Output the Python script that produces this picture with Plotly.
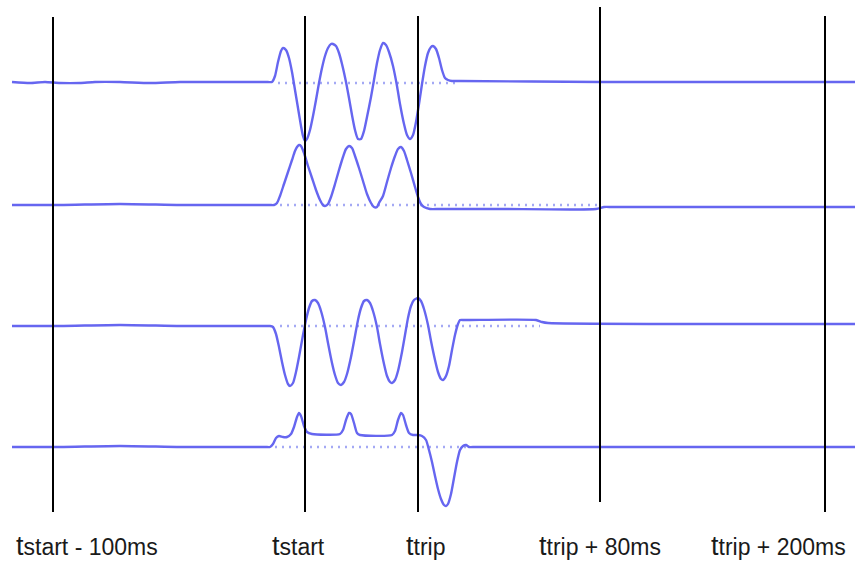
import plotly.graph_objects as go

# ---- data (schematic waveform samples) ----
# x = position along the time axis, y = signal level (screen units, larger = lower)
w1_x = [12, 30, 45, 60, 80, 95, 120, 150, 180, 230, 262, 268, 272, 275, 278, 281, 283, 286, 289, 292, 295, 298, 301, 303, 305, 307, 310, 313, 316, 319, 322, 325, 328, 331, 333, 336, 339, 342, 346, 349, 352, 355, 358, 361, 364, 367, 371, 374, 377, 380, 383, 386, 389, 393, 397, 400, 404, 407, 410, 413, 416, 419, 422, 425, 428, 431, 433, 436, 439, 442, 445, 448, 452, 460, 600, 700, 855]
w1_y = [82, 83, 82, 83, 83, 82, 82, 83, 82, 82, 82, 82, 82, 76, 62, 51, 48, 50, 58, 72, 90, 108, 126, 136, 141, 139, 130, 116, 100, 83, 68, 56, 48, 44, 44, 46, 53, 64, 82, 98, 115, 130, 139, 139, 131, 117, 97, 80, 63, 50, 43, 45, 52, 66, 86, 104, 124, 135, 139, 135, 122, 104, 84, 66, 53, 47, 46, 49, 58, 70, 78, 80, 81, 81, 82, 82, 82]

w2_x = [12, 60, 120, 180, 230, 262, 270, 274, 277, 280, 284, 288, 292, 295, 297, 299, 301, 304, 308, 312, 316, 320, 323, 325, 328, 331, 335, 339, 343, 346, 349, 352, 355, 359, 363, 367, 371, 374, 377, 379, 383, 387, 391, 395, 398, 401, 404, 407, 411, 415, 418, 421, 424, 430, 440, 500, 596, 604, 612, 700, 855]
w2_y = [205, 205, 204, 205, 205, 205, 205, 205, 203, 196, 184, 172, 160, 151, 147, 145, 146, 153, 166, 178, 190, 200, 205, 206, 204, 197, 184, 170, 157, 149, 146, 148, 156, 168, 181, 194, 203, 207, 207, 203, 196, 182, 168, 156, 149, 147, 151, 160, 173, 187, 197, 204, 207, 209, 209, 209, 209, 207, 207, 207, 207]

w3_x = [12, 60, 120, 180, 230, 262, 266, 270, 273, 276, 279, 282, 285, 288, 290, 293, 296, 299, 303, 306, 309, 312, 315, 318, 321, 325, 328, 332, 335, 338, 341, 344, 347, 351, 355, 358, 361, 364, 367, 370, 373, 377, 380, 384, 387, 390, 392, 395, 398, 402, 405, 408, 411, 414, 418, 421, 424, 428, 431, 435, 438, 441, 443, 446, 449, 452, 455, 458, 460, 464, 470, 536, 542, 548, 700, 855]
w3_y = [326, 326, 325, 326, 326, 326, 326, 326, 327, 334, 347, 362, 375, 384, 386, 383, 372, 357, 335, 320, 308, 301, 300, 303, 311, 327, 343, 363, 375, 383, 385, 382, 374, 357, 336, 320, 308, 301, 300, 303, 311, 327, 344, 364, 376, 382, 383, 380, 371, 352, 335, 318, 306, 300, 298, 301, 309, 325, 341, 360, 372, 379, 380, 376, 366, 350, 335, 324, 320, 320, 320, 320, 322, 323, 324, 324]

w4_x = [12, 60, 120, 180, 230, 262, 266, 270, 273, 276, 279, 283, 287, 291, 294, 297, 299, 301, 304, 307, 312, 340, 343, 346, 349, 351, 354, 357, 360, 392, 395, 398, 401, 403, 406, 409, 413, 418, 422, 426, 429, 432, 435, 438, 441, 444, 446, 448, 451, 454, 457, 460, 463, 466, 469, 475, 600, 855]
w4_y = [447, 447, 446, 447, 447, 447, 447, 447, 444, 438, 436, 437, 437, 434, 427, 417, 413, 416, 426, 432, 434, 434, 430, 420, 413, 414, 423, 433, 435, 435, 431, 420, 413, 415, 425, 433, 435, 435, 436, 440, 450, 462, 476, 489, 499, 505, 506, 504, 494, 478, 462, 450, 446, 445, 447, 447, 447, 447]

waves = [(w1_x, w1_y), (w2_x, w2_y), (w3_x, w3_y), (w4_x, w4_y)]

# dotted reference levels: (level, start, end)
ref_level = [83, 205, 326, 447]
ref_start = [278, 280, 280, 275]
ref_end = [460, 600, 540, 470]

# time markers
marker_x = [53, 305, 418, 600, 825]
marker_top = [17, 16, 16, 7, 16]
marker_bottom = [512, 512, 512, 502, 512]
marker_labels = ["tstart - 100ms", "tstart", "ttrip", "ttrip + 80ms", "ttrip + 200ms"]
label_x = [87, 298, 425, 600, 778]

# ---- figure ----
fig = go.Figure()
BLUE = "#6666f0"

for lvl, s, e in zip(ref_level, ref_start, ref_end):
    fig.add_trace(go.Scatter(x=[s, e], y=[lvl, lvl], mode="lines",
                             line=dict(color="#a4a9f4", width=2.5, dash="2px,5px"),
                             hoverinfo="skip", showlegend=False))

for xs, ys in waves:
    fig.add_trace(go.Scatter(x=xs, y=ys, mode="lines",
                             line=dict(color=BLUE, width=2.4, shape="spline", smoothing=0.6),
                             showlegend=False))

for mx, t, b in zip(marker_x, marker_top, marker_bottom):
    fig.add_trace(go.Scatter(x=[mx, mx], y=[t, b], mode="lines",
                             line=dict(color="black", width=2),
                             hoverinfo="skip", showlegend=False))

for lx, lab in zip(label_x, marker_labels):
    txt = '<span style="font-size:27px">t</span>' + lab[1:]
    fig.add_annotation(x=lx, y=546, text=txt, showarrow=False,
                       xanchor="center", yanchor="middle", borderpad=0,
                       font=dict(family="Liberation Sans, Arial", size=23, color="#1a1a1a"))

fig.update_layout(
    width=857, height=562,
    margin=dict(l=0, r=0, t=0, b=0),
    paper_bgcolor="white", plot_bgcolor="white",
    xaxis=dict(range=[0, 857], visible=False, fixedrange=True),
    yaxis=dict(range=[562, 0], visible=False, fixedrange=True),
)

fig.write_html("out.html", config={"displayModeBar": False},
               post_script="document.body.style.margin='0';document.body.style.padding='0';document.body.style.overflow='hidden';")
